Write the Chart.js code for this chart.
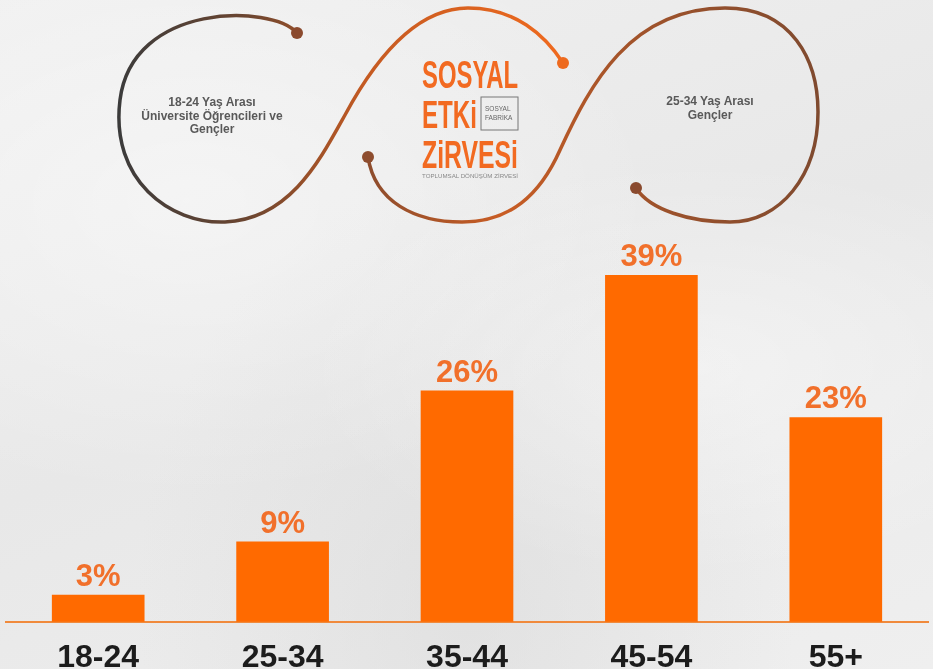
<!DOCTYPE html>
<html lang="tr">

<head>
    <meta charset="UTF-8">
    <title>Sosyal Etki Zirvesi - Yaş Dağılımı</title>
    <script src="https://cdn.jsdelivr.net/npm/chart.js"></script>
    <style>
        html, body {
            margin: 0;
            padding: 0;
        }

        body {
            width: 933px;
            height: 669px;
            overflow: hidden;
            position: relative;
            font-family: "Liberation Sans", Arial, sans-serif;
            background-color: #ececec;
            background-image:
                radial-gradient(ellipse at 20% 30%, rgba(255, 255, 255, 0.45), rgba(255, 255, 255, 0) 45%),
                radial-gradient(ellipse at 75% 55%, rgba(255, 255, 255, 0.4), rgba(255, 255, 255, 0) 40%),
                radial-gradient(ellipse at 50% 90%, rgba(215, 215, 215, 0.5), rgba(215, 215, 215, 0) 50%),
                linear-gradient(160deg, #f0f0f0 0%, #e8e8e8 50%, #efefef 100%);
        }

        /* el lienzo es más alto que la ventana para bajar las etiquetas del eje */
        #chartBox {
            position: absolute;
            left: 0;
            top: 0;
            width: 933px;
            height: 695px;
        }

        #header {
            position: absolute;
            left: 0;
            top: 0;
            width: 933px;
            height: 235px;
            pointer-events: none;
        }

        .loopText {
            position: absolute;
            text-align: center;
            font-size: 12px;
            font-weight: bold;
            line-height: 13.5px;
            color: #595959;
        }
    </style>
</head>

<body>
    <!-- Grafik -->
    <div id="chartBox">
        <canvas id="graficoEdad"></canvas>
    </div>

    <!-- Üst kısım: döngüler ve logo -->
    <svg id="header" width="933" height="235" viewBox="0 0 933 235">
        <defs>
            <linearGradient id="lineaA" gradientUnits="userSpaceOnUse" x1="118" y1="0" x2="565" y2="0">
                <stop offset="0" stop-color="#3b3b3b" />
                <stop offset="0.3" stop-color="#6e4630" />
                <stop offset="0.55" stop-color="#c45a22" />
                <stop offset="1" stop-color="#f06a1e" />
            </linearGradient>
            <linearGradient id="lineaB" gradientUnits="userSpaceOnUse" x1="365" y1="0" x2="820" y2="0">
                <stop offset="0" stop-color="#8c4c2d" />
                <stop offset="0.3" stop-color="#c95d24" />
                <stop offset="0.55" stop-color="#a5542a" />
                <stop offset="1" stop-color="#7f4a2f" />
            </linearGradient>
        </defs>
        <path d="M297,33 C272,4 132,2 120,100 C110,180 170,224 225,222 C290,219 320,160 345,115 C380,50 420,8 468,8 C515,8 545,35 563,63"
            fill="none" stroke="url(#lineaA)" stroke-width="3.5" stroke-linecap="round" />
        <path d="M368,157 C375,202 415,222 462,222 C510,222 540,195 560,150 C590,85 630,8 725,8 C792,8 818,60 818,112 C818,176 780,222 730,222 C690,222 650,210 636,188"
            fill="none" stroke="url(#lineaB)" stroke-width="3.5" stroke-linecap="round" />
        <circle cx="297" cy="33" r="6" fill="#8b4a2e" />
        <circle cx="563" cy="63" r="6" fill="#ee6a1e" />
        <circle cx="368" cy="157" r="6" fill="#8e4d2e" />
        <circle cx="636" cy="188" r="6" fill="#8a4a2e" />

        <!-- Logo -->
        <g font-family="'Liberation Sans Narrow', 'Liberation Sans', sans-serif" font-weight="bold" fill="#f26a21">
            <text x="422" y="88" font-size="39" textLength="96" lengthAdjust="spacingAndGlyphs">SOSYAL</text>
            <text x="422" y="128" font-size="39" textLength="55" lengthAdjust="spacingAndGlyphs">ETKi</text>
            <text x="422" y="168" font-size="39" textLength="96" lengthAdjust="spacingAndGlyphs">ZiRVESi</text>
        </g>
        <rect x="481" y="97" width="37" height="33" fill="none" stroke="#777" stroke-width="1" />
        <text x="485" y="111" font-size="6.5" fill="#666" font-family="'Liberation Sans', sans-serif">SOSYAL</text>
        <text x="485" y="120" font-size="6.5" fill="#666" font-family="'Liberation Sans', sans-serif">FABRİKA</text>
        <text x="422" y="178" font-size="4.5" fill="#888" font-family="'Liberation Sans', sans-serif" textLength="96" lengthAdjust="spacingAndGlyphs">TOPLUMSAL DÖNÜŞÜM ZİRVESİ</text>
    </svg>

    <div class="loopText" style="left: 112px; top: 96px; width: 200px;">
        18-24 Yaş Arası<br>Üniversite Öğrencileri ve<br>Gençler
    </div>
    <div class="loopText" style="left: 610px; top: 95px; width: 200px;">
        25-34 Yaş Arası<br>Gençler
    </div>

    <script>
        // Datos del gráfico
        const categorias = ["18-24", "25-34", "35-44", "45-54", "55+"];
        const porcentajes = [3, 9, 26, 39, 23];
        const etiquetas = ["3%", "9%", "26%", "39%", "23%"];

        const naranja = "#ff6a00";

        // Plugin para escribir el porcentaje encima de cada barra
        const etiquetasBarras = {
            id: "etiquetasBarras",
            afterDatasetsDraw(chart) {
                const ctx = chart.ctx;
                const meta = chart.getDatasetMeta(0);
                ctx.save();
                ctx.font = "bold 31px 'Liberation Sans', Arial, sans-serif";
                ctx.fillStyle = "#f1702b";
                ctx.textAlign = "center";
                ctx.textBaseline = "alphabetic";
                meta.data.forEach((bar, i) => {
                    ctx.fillText(etiquetas[i], bar.x, bar.y - 9);
                });
                ctx.restore();
            }
        };

        document.addEventListener("DOMContentLoaded", () => {
            const ctx = document.getElementById("graficoEdad").getContext("2d");

            new Chart(ctx, {
                type: "bar",
                data: {
                    labels: categorias,
                    datasets: [
                        {
                            label: "Katılımcı yaş dağılımı",
                            data: porcentajes,
                            backgroundColor: naranja,
                            borderWidth: 0,
                            barThickness: 92,
                        },
                    ],
                },
                options: {
                    responsive: true,
                    maintainAspectRatio: false,
                    animation: false,
                    layout: {
                        padding: { top: 222, left: 6, right: 5, bottom: 0 },
                    },
                    plugins: {
                        legend: { display: false },
                        tooltip: { enabled: false },
                    },
                    scales: {
                        y: {
                            display: false,
                            min: 0,
                            max: 45,
                        },
                        x: {
                            grid: { display: false, drawTicks: false },
                            border: { display: true, color: "#f08a3c", width: 2 },
                            ticks: {
                                color: "#1c1c1c",
                                padding: 19,
                                font: {
                                    family: "'Liberation Sans', Arial, sans-serif",
                                    size: 32,
                                    weight: "bold",
                                    lineHeight: 1.1,
                                },
                            },
                        },
                    },
                },
                plugins: [etiquetasBarras],
            });
        });
    </script>
</body>

</html>
